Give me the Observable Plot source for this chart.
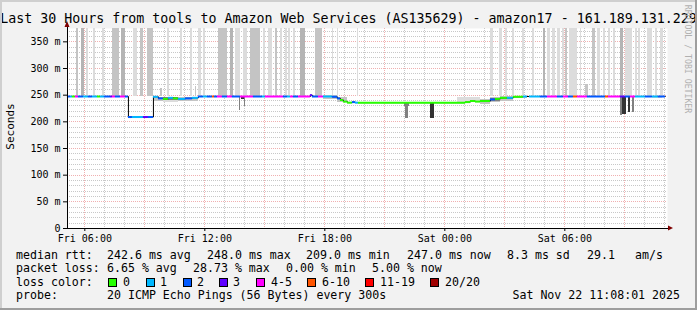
<!DOCTYPE html>
<html><head><meta charset="utf-8">
<script src="https://cdn.jsdelivr.net/npm/d3@7"></script>
<script src="https://cdn.jsdelivr.net/npm/@observablehq/plot@0.6"></script>
<style>
html,body{margin:0;padding:0;background:#f2f2f2;}
#chart{width:697px;height:310px;overflow:hidden;}
</style></head><body><div id="chart"></div>
<script>
// ---- texts ----
const titleText = "Last 30 Hours from tools to Amazon Web Services (AS135629) - amazon17 - 161.189.131.229";
const yLabelText = "Seconds";
const creditText = "RRDTOOL / TOBI OETIKER";
// ---- axes (hours since Fri 00:00; window Fri 05:08:01 -> Sat 11:08:01) ----
const xDomain = [5.1336, 35.1336];
const xTickHours = [6, 12, 18, 24, 30];
const xTickLabels = ["Fri 06:00", "Fri 12:00", "Fri 18:00", "Sat 00:00", "Sat 06:00"];
const yDomain = [0, 375];
const yTickValues = [0, 50, 100, 150, 200, 250, 300, 350];
const yTickLabels = ["0", "50 m", "100 m", "150 m", "200 m", "250 m", "300 m", "350 m"];
// ---- loss legend ----
const lossLabels = ["0", "1", "2", "3", "4-5", "6-10", "11-19", "20/20"];
const lossColors = ["#26ff00", "#00b8ff", "#0059ff", "#5e00ff", "#ff00ff", "#ff5500", "#ff0000", "#a00000"];
// ---- median rtt: [startHour, endHour, ms, lossClass] ----
const medianSegments = [
  [5.13,5.28,247.5,2],[5.28,5.38,247.5,1],[5.38,5.53,247.5,0],[5.53,5.68,247.5,4],
  [5.68,5.93,247.5,2],[5.93,6.18,247.5,1],[6.18,6.38,247.5,2],[6.38,6.63,247.5,1],
  [6.63,6.78,247.5,0],[6.78,6.98,247.5,1],[6.98,7.28,247.5,2],[7.28,7.38,247.5,3],
  [7.38,7.53,247.5,4],[7.53,7.78,247.5,2],[7.78,8.03,247.5,4],[8.03,8.18,247.5,2],
  [8.18,8.38,209,2],[8.38,8.93,209,1],[8.93,9.18,209,3],[9.18,9.43,209,2],
  [9.43,9.68,247,1],[9.68,9.93,244,2],[9.93,10.18,243,0],[10.18,10.43,245,1],
  [10.43,10.68,244,0],[10.68,11.03,243,1],[11.03,11.38,244,2],[11.38,11.68,245,1],
  [11.68,11.93,247.5,2],[11.93,12.13,247.5,1],[12.13,12.38,247.5,2],[12.38,12.48,247.5,5],
  [12.48,12.63,247.5,2],[12.63,12.88,247.5,4],[12.88,13.13,247.5,2],[13.13,13.38,247.5,4],
  [13.38,13.78,247.5,2],[13.78,14.43,247.5,4],[14.43,14.88,247.5,2],[14.88,15.03,247.5,1],
  [15.03,15.93,247.5,4],[15.93,16.13,247.5,2],[16.13,16.28,247.5,1],[16.28,16.43,247.5,4],
  [16.43,16.68,247.5,2],[16.68,17.28,247.5,4],[17.28,17.38,250,3],[17.38,17.68,247.5,2],
  [17.68,17.93,247.5,4],[17.93,18.38,247.5,1],[18.38,18.63,247,2],[18.63,18.78,244,2],
  [18.78,18.93,241,0],[18.93,19.13,238,0],[19.13,19.38,236,0],[19.38,19.53,237,2],
  [19.53,19.68,236,1],[19.68,25.03,236,0],[25.03,25.28,237,0],[25.28,25.53,239,0],
  [25.53,25.78,238,0],[25.78,26.28,239,0],[26.28,26.53,242,2],[26.53,26.78,243,0],
  [26.78,27.13,245,0],[27.13,27.43,245,1],[27.43,27.93,247,0],[27.93,28.13,247.5,1],
  [28.23,28.78,247.5,1],[28.78,29.13,247.5,2],[29.13,29.63,247.5,4],[29.63,29.93,247.5,2],
  [29.93,30.18,247.5,4],[30.18,30.43,247.5,2],[30.43,30.63,247.5,5],[30.63,31.13,247.5,4],
  [31.13,32.03,247.5,2],[32.03,32.18,247.5,5],[32.18,32.78,247.5,4],[32.78,33.03,247.5,3],
  [33.03,33.28,247.5,2],[33.28,33.53,247.5,4],[33.53,34.03,247.5,1],[34.03,34.38,247.5,2],
  [34.38,34.68,247.5,1],[34.68,35.03,247.5,2]
];
// ---- smoke (ping spread): [startHour, endHour, lowMs, highMs, shade] ----
const smokeTall = [
  [5.58,5.68,248,375,"M"],[5.83,5.98,248,375,"D"],[6.08,6.18,248,375,"L"],[6.43,6.53,248,375,"L"],
  [6.88,6.98,248,375,"L"],[7.38,7.73,248,375,"M"],[7.83,8.03,248,375,"D"],[8.43,8.63,248,375,"L"],
  [8.78,8.93,248,375,"M"],[9.13,9.43,248,375,"M"],[10.13,10.23,248,375,"L"],[10.78,10.88,248,375,"L"],
  [11.28,11.38,248,375,"L"],[11.53,11.58,248,267,"M"],[11.68,11.83,248,375,"L"],[11.93,12.03,248,375,"L"],
  [12.68,13.13,248,375,"M"],[13.28,13.43,248,375,"D"],[13.53,13.78,248,375,"L"],[13.93,14.13,248,375,"L"],
  [14.28,14.78,248,375,"M"],[14.93,15.03,248,375,"L"],[15.18,15.38,248,375,"L"],[15.53,15.63,248,375,"M"],
  [15.78,15.88,248,375,"L"],[16.03,16.13,248,375,"L"],[16.18,16.28,248,375,"L"],[16.43,16.53,248,375,"L"],
  [16.78,17.03,248,375,"D"],[17.53,17.88,248,375,"M"],[18.38,18.43,248,375,"L"],[18.63,18.68,248,375,"L"],
  [19.63,19.68,248,375,"L"],[26.28,26.43,248,375,"L"],[26.73,26.88,248,375,"L"],[27.03,27.13,248,375,"L"],
  [27.38,27.48,248,375,"L"],[27.88,27.98,248,375,"L"],[28.38,28.48,248,375,"L"],[28.93,29.03,248,375,"D"],
  [29.13,29.28,248,375,"L"],[29.38,29.53,248,375,"L"],[29.63,29.78,248,375,"L"],[29.88,29.98,248,375,"L"],
  [30.03,30.13,248,375,"M"],[30.23,30.63,248,375,"L"],[30.78,30.83,248,375,"L"],[31.03,31.18,248,270,"M"],
  [31.38,31.53,248,375,"M"],[31.63,31.78,248,375,"L"],[31.93,32.03,248,375,"L"],[32.18,32.28,248,375,"L"],
  [32.43,32.53,248,375,"L"],[32.78,32.93,248,375,"D"],[33.03,33.18,248,375,"L"],[33.18,33.38,248,375,"L"],
  [33.53,33.63,248,375,"L"],[33.68,33.78,248,375,"L"],[34.13,34.38,248,375,"L"],[34.53,34.63,248,375,"L"],
  [34.78,34.93,248,375,"L"]
];
const smokeLow = [
  [9.43,9.93,238,246,"M"],[9.78,9.88,248,262,"M"],[9.93,10.68,240,245,"G"],[9.93,10.68,236,240,"L"],
  [10.68,11.68,239,245,"M"],[17.93,18.63,241,249,"M"],[18.63,19.13,236,245,"M"],
  [24.63,25.78,237,245,"L"],
  [25.78,26.28,233,242,"M"],[25.78,26.28,236,240,"G"],
  [26.28,26.78,236,245,"M"],[26.28,26.78,239,243,"G"],
  [26.78,27.43,238,247,"M"],[26.78,27.43,241,246,"G"],
  [27.43,28.13,243,248,"M"],[34.38,34.88,243,247,"L"]
];
const smokeSpikes = [
  [13.73,13.78,221,248,"G"],[13.83,14.03,241,248,"K"],[13.98,14.03,228,248,"G"],
  [22.03,22.18,207,236,"G"],[21.98,22.23,228,236,"G"],[23.28,23.48,207,236,"K"],
  [32.78,32.88,212,248,"G"],[32.88,33.08,214,248,"K"],[33.18,33.28,217,248,"K"],[33.38,33.48,217,248,"G"]
];
const smokeShades = {L: "#dcdcdc", M: "#c4c4c4", D: "#b4b4b4", G: "#808080", K: "#333333"};
// ---- statistics / legend text ----
const statLine1 = ["median rtt:", "242.6 ms avg", "248.0 ms max", "209.0 ms min", "247.0 ms now", "8.3 ms sd", "29.1", "am/s"];
const statLine2 = ["packet loss:", "6.65 % avg", "28.73 % max", "0.00 % min", "5.00 % now"];
const lossTitle = "loss color:";
const probeLine = ["probe:", "20 ICMP Echo Pings (56 Bytes) every 300s"];
const dateText = "Sat Nov 22 11:08:01 2025";

// ---- layout ----
const statX1 = [16, 107, 207, 306, 407, 507, 587, 635];
const statX2 = [16, 107, 193, 286, 372];
const swatchX = [108, 146, 183, 219, 256, 307, 365, 430];
const swatchLabelX = [123, 160, 197, 233, 271, 322, 380, 445];
const mono = "'DejaVu Sans Mono', monospace";

const seg = medianSegments.map(([h1, h2, ms, loss]) => ({h1, h2, ms, loss}));
const steps = seg.map(d => ({h: d.h1, ms: d.ms}));
steps.push({h: seg[seg.length - 1].h2, ms: seg[seg.length - 1].ms});
const toRect = a => a.map(([h1, h2, lo, hi, s]) => ({h1, h2, lo, hi, s}));

const yMinor = d3.range(10, 375, 10).filter(v => v % 50 !== 0);
const yMajor = d3.range(50, 375, 50);
const xMinor = d3.range(6, 36).filter(h => h % 3 !== 0);
const xMajor = d3.range(6, 36, 3);

const rectOpts = {x1: "h1", x2: "h2", y1: "lo", y2: "hi", fill: d => smokeShades[d.s], shapeRendering: "crispEdges"};

const plot = Plot.plot({
  width: 697, height: 310,
  marginLeft: 67, marginRight: 30, marginTop: 28, marginBottom: 82,
  style: {background: "#f2f2f2", fontFamily: mono, fontSize: "10px", color: "#000", overflow: "visible"},
  x: {domain: xDomain},
  y: {domain: yDomain},
  marks: [
    Plot.frame({fill: "#ffffff", stroke: null}),
    Plot.ruleY(yMinor, {stroke: "#c8c8c8", strokeDasharray: "1,1", shapeRendering: "crispEdges"}),
    Plot.ruleX(xMinor, {stroke: "#c8c8c8", strokeDasharray: "1,1", shapeRendering: "crispEdges"}),
    Plot.ruleY(yMajor, {stroke: "#f0b0b0", strokeDasharray: "1,1", shapeRendering: "crispEdges"}),
    Plot.ruleX(xMajor, {stroke: "#f0b0b0", strokeDasharray: "1,1", shapeRendering: "crispEdges"}),
    Plot.rect(toRect(smokeTall), rectOpts),
    Plot.rect(toRect(smokeLow), rectOpts),
    Plot.rect(toRect(smokeSpikes), rectOpts),
    Plot.line(steps, {x: "h", y: "ms", curve: "step-after", stroke: "#000", strokeWidth: 1}),
    Plot.ruleY(seg, {x1: "h1", x2: "h2", y: "ms", stroke: d => lossColors[d.loss], strokeWidth: 2}),
    Plot.ruleY([0], {stroke: "#000", shapeRendering: "crispEdges"}),
    Plot.ruleX([xDomain[0]], {y1: 0, y2: 384, stroke: "#000", shapeRendering: "crispEdges"}),
    Plot.axisY({ticks: yTickValues, tickFormat: d => yTickLabels[yTickValues.indexOf(d)], tickSize: 4, tickPadding: 3, label: null}),
    Plot.axisX({ticks: xTickHours, tickFormat: d => xTickLabels[xTickHours.indexOf(d)], tickSize: 3, tickPadding: 3, label: null})
  ]
});
document.getElementById("chart").appendChild(plot);

// ---- decorations (arrows, title, legend, border) ----
const svg = d3.select(plot);
const sx = plot.scale("x"), sy = plot.scale("y");
const x0 = sx.apply(xDomain[0]), x1 = sx.apply(xDomain[1]);
const yb = sy.apply(0), yt = sy.apply(yDomain[1]);
const arrow = "#7f0000";
svg.append("path").attr("d", `M${x0 - 2.5},${yt - 1}L${x0 + 2.5},${yt - 1}L${x0},${yt - 7}Z`).attr("fill", arrow);
svg.append("path").attr("d", `M${x1 + 1},${yb - 2.5}L${x1 + 1},${yb + 2.5}L${x1 + 6},${yb}Z`).attr("fill", arrow);
svg.append("line").attr("x1", x0).attr("x2", x1 + 1).attr("y1", yb + 0.5).attr("y2", yb + 0.5).attr("stroke", "#000");

const txt = (x, y, s, size, anchor = "start", fill = "#000") =>
  svg.append("text").attr("x", x).attr("y", y).attr("text-anchor", anchor)
    .attr("fill", fill).style("font-family", mono).style("font-size", size).style("white-space", "pre").text(s);

txt(348.5, 23.3, titleText, "13.3px", "middle");
svg.append("text").attr("transform", "translate(13.5,126.5) rotate(-90)").attr("text-anchor", "middle")
  .style("font-family", mono).style("font-size", "11px").attr("fill", "#000").text(yLabelText);
svg.append("text").attr("transform", "translate(684.5,59) rotate(90)").attr("text-anchor", "middle")
  .style("font-family", mono).style("font-size", "8.2px").attr("fill", "#b0b0b0").text(creditText);

const fs = "11.6px";
statLine1.forEach((s, i) => txt(statX1[i], 258.5, s, fs));
statLine2.forEach((s, i) => txt(statX2[i], 272, s, fs));
txt(16, 285.7, lossTitle, fs);
lossLabels.forEach((s, i) => {
  svg.append("rect").attr("x", swatchX[i] + 0.5).attr("y", 278.5).attr("width", 8).attr("height", 8)
    .attr("fill", lossColors[i]).attr("stroke", "#000");
  txt(swatchLabelX[i], 285.7, s, fs);
});
txt(16, 299.3, probeLine[0], fs);
txt(107, 299.3, probeLine[1], fs);
txt(680, 299.3, dateText, fs, "end");

// bevel border
svg.append("rect").attr("x", 0).attr("y", 0).attr("width", 697).attr("height", 2).attr("fill", "#cfcfcf");
svg.append("rect").attr("x", 0).attr("y", 0).attr("width", 2).attr("height", 310).attr("fill", "#cfcfcf");
svg.append("rect").attr("x", 0).attr("y", 308).attr("width", 697).attr("height", 2).attr("fill", "#9e9e9e");
svg.append("rect").attr("x", 695).attr("y", 0).attr("width", 2).attr("height", 310).attr("fill", "#9e9e9e");
</script></body></html>
